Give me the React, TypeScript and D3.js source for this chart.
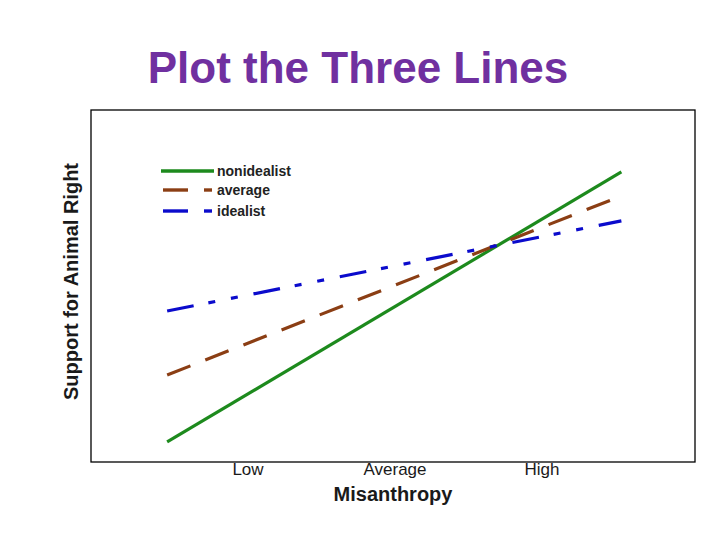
import * as d3 from 'd3';
import React from 'react';

// Misanthropy levels (standardised) and tick labels
const xTicks = [-1, 0, 1];
const xTickLabels = ['Low', 'Average', 'High'];
const xRange = [-1.55, 1.54];

const seriesNames = ['nonidealist', 'average', 'idealist'];
const nonidealist = [0.57, 8.24];
const average = [2.47, 7.56];
const idealist = [4.29, 6.85];

const colors = ['#1d8a1d', '#8b3e14', '#0b0bcc'];
const dashes = ['none', '25 16', '27 15 7 16 7 16'];

const W = 720;
const H = 540;
const box = { left: 91, top: 110, right: 695, bottom: 462 };

const App = () => {
	const x = d3.scaleLinear().domain([-1, 1]).range([248, 542]);
	const y = d3.scaleLinear().domain([0, 10]).range([box.bottom, box.top]);

	const line = d3
		.line<[number, number]>()
		.x((d) => x(d[0]))
		.y((d) => y(d[1]));

	const series = [nonidealist, average, idealist].map((vals) =>
		vals.map((v, i) => [xRange[i], v] as [number, number])
	);

	const legendY = [171, 190, 211];

	return (
		<svg
			width={W}
			height={H}
			style={{ position: 'absolute', left: 0, top: 0, background: '#fff' }}
			fontFamily="'Liberation Sans', Arial, sans-serif"
		>
			<defs>
				<clipPath id="ylab-clip" clipPathUnits="userSpaceOnUse">
					<rect x={0} y={163} width={90} height={300} />
				</clipPath>
			</defs>

			<text x={358} y={83} textAnchor="middle" fontSize={44} fontWeight="bold" fill="#7030a0">
				Plot the Three Lines
			</text>

			<rect
				x={box.left}
				y={box.top}
				width={box.right - box.left}
				height={box.bottom - box.top}
				fill="none"
				stroke="#000"
				strokeWidth={1.3}
			/>

			{series.map((s, i) => (
				<path
					key={seriesNames[i]}
					d={line(s) ?? ''}
					fill="none"
					stroke={colors[i]}
					strokeWidth={3.2}
					strokeDasharray={dashes[i]}
				/>
			))}

			{/* legend */}
			<g>
				{seriesNames.map((name, i) => (
					<g key={name}>
						{i === 0 ? (
							<line x1={161} x2={214} y1={legendY[i]} y2={legendY[i]} stroke={colors[i]} strokeWidth={3.4} />
						) : (
							<>
								<line x1={163} x2={188} y1={legendY[i]} y2={legendY[i]} stroke={colors[i]} strokeWidth={3.4} />
								<line x1={204} x2={212} y1={legendY[i]} y2={legendY[i]} stroke={colors[i]} strokeWidth={3.4} />
							</>
						)}
						<text x={217} y={legendY[i] + 5} fontSize={14} fontWeight="bold" fill="#222">
							{name}
						</text>
					</g>
				))}
			</g>

			{/* x tick labels */}
			{xTicks.map((t, i) => (
				<text key={t} x={x(t)} y={475} textAnchor="middle" fontSize={17} fill="#1a1a1a">
					{xTickLabels[i]}
				</text>
			))}
			<text x={393} y={501} textAnchor="middle" fontSize={20} fontWeight="bold" fill="#1a1a1a">
				Misanthropy
			</text>

			<g clipPath="url(#ylab-clip)">
				<text
					transform="translate(78,400) rotate(-90)"
					textAnchor="start"
					fontSize={20}
					fontWeight="bold"
					fill="#1a1a1a"
				>
					Support for Animal Rights
				</text>
			</g>
		</svg>
	);
};

export default App;
